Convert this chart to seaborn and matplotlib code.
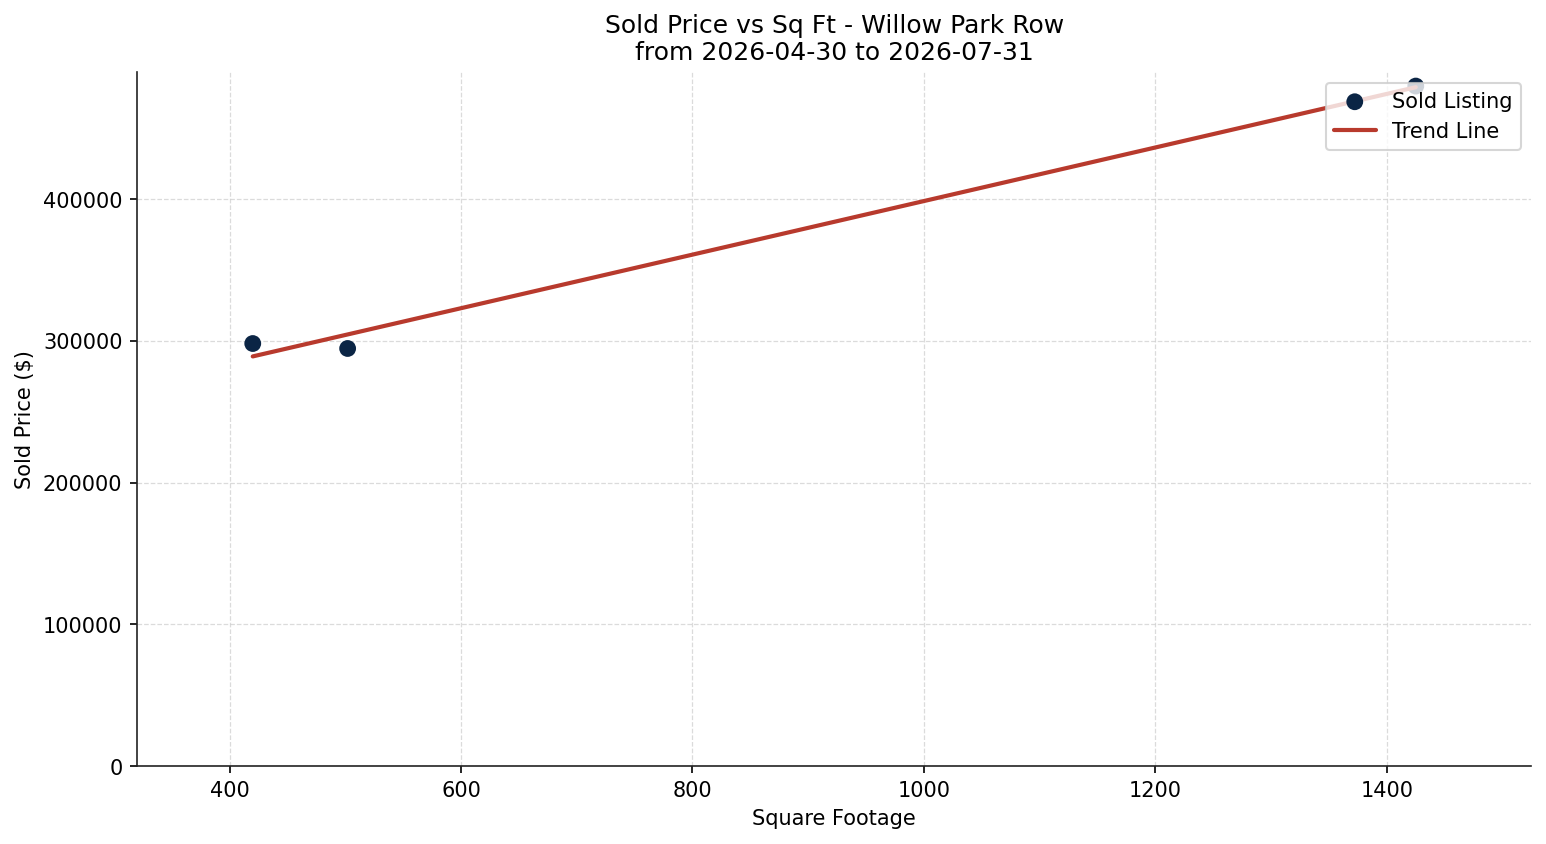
import numpy as np
import seaborn as sns
import matplotlib.pyplot as plt

# Datos de ventas
sq_ft = [420, 502, 1425]
sold_price = [298200, 294700, 479900]

titulo = "Sold Price vs Sq Ft - Willow Park Row\nfrom 2026-04-30 to 2026-07-31"

sns.set_theme(style="ticks", rc={'text.color': 'black', 'axes.labelcolor': 'black',
                                 'xtick.color': 'black', 'ytick.color': 'black',
                                 'axes.edgecolor': '#222222', 'axes.linewidth': 0.8,
                                 'xtick.major.size': 3.5, 'ytick.major.size': 3.5,
                                 'xtick.major.width': 0.8, 'ytick.major.width': 0.8})
plt.rcParams['font.family'] = ['DejaVu Sans']

fig, ax = plt.subplots(figsize=(10.31, 5.63), dpi=150)

# Puntos vendidos
sns.scatterplot(x=sq_ft, y=sold_price, ax=ax, color='#0b2545', s=65,
                label='Sold Listing', zorder=3, edgecolor='none')

# Línea de tendencia
m, b = np.polyfit(sq_ft, sold_price, 1)
x_line = np.array([min(sq_ft), max(sq_ft)])
sns.lineplot(x=x_line, y=m * x_line + b, ax=ax, color='#b83a2d',
             linewidth=2, label='Trend Line', zorder=4)

ax.set_xlim(min(sq_ft) - 100, max(sq_ft) + 100)
ax.set_ylim(0, max(sold_price) * 1.02)

ax.set_title(titulo, fontsize=12)
ax.set_xlabel('Square Footage', fontsize=10)
ax.set_ylabel('Sold Price ($)', fontsize=10)
ax.tick_params(axis='both', labelsize=10)
ax.grid(True, linestyle='--', alpha=0.7, color='#cccccc', linewidth=0.6)

sns.despine(ax=ax)

ax.legend(loc='upper right', fontsize=10, frameon=True)

fig.subplots_adjust(left=0.0886, right=0.9903, top=0.9136, bottom=0.0923)
plt.savefig('out.png', dpi=150)
